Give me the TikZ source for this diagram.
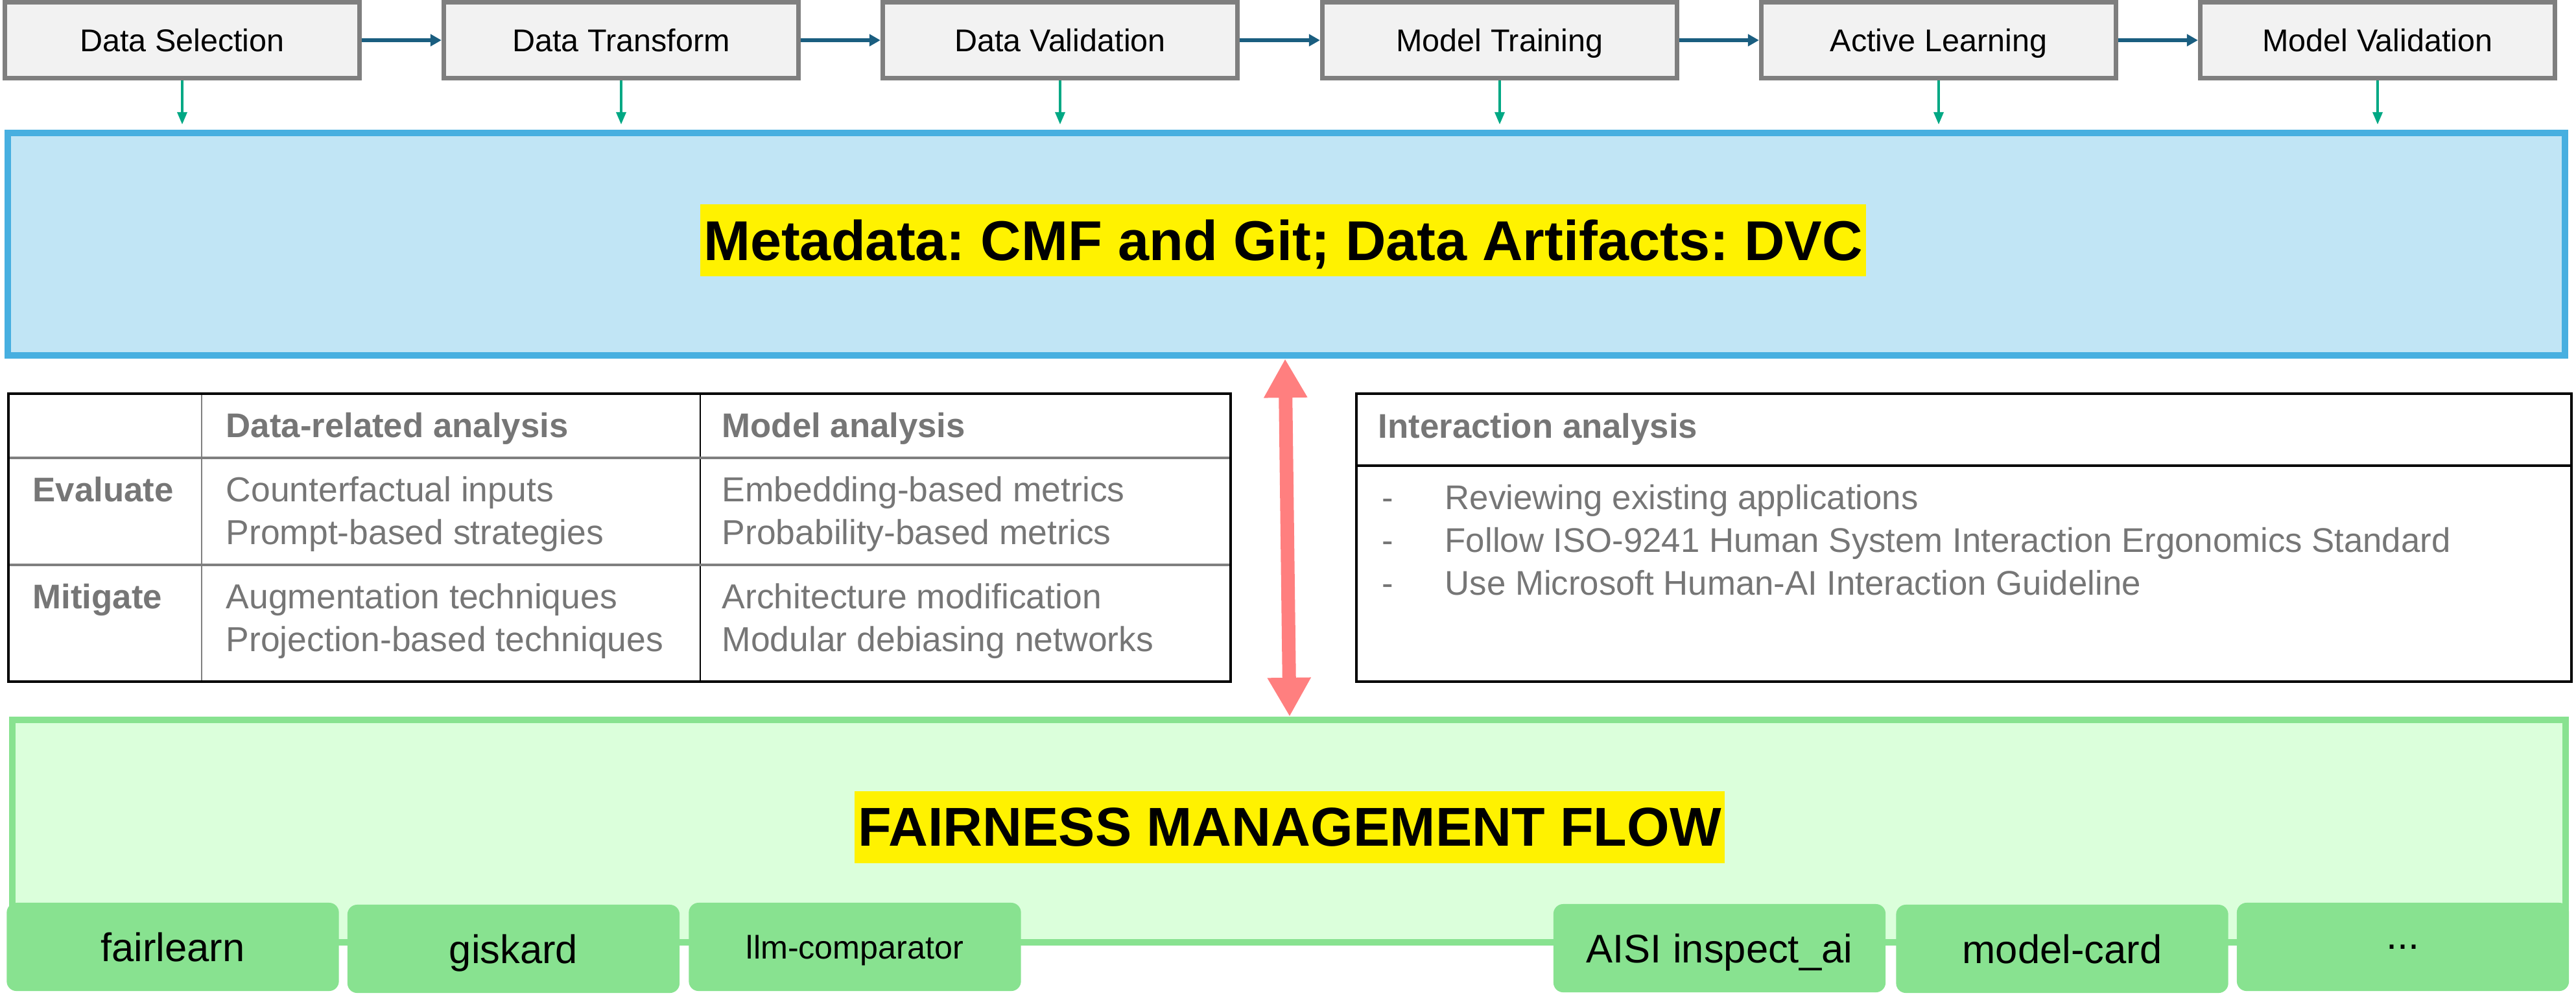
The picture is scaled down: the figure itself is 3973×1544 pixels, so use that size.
\documentclass[tikz,border=0pt]{standalone}
\usepackage{fontspec}
\setmainfont{Liberation Sans}
\usetikzlibrary{arrows.meta}
\usetikzlibrary{positioning}
\frenchspacing
\definecolor{stagefill}{HTML}{F2F2F2}
\definecolor{stageline}{HTML}{7F7F7F}
\definecolor{mflow}{HTML}{1A5E80}
\definecolor{mgreen}{HTML}{00A884}
\definecolor{metaline}{HTML}{47AFE0}
\definecolor{metafill}{HTML}{C1E5F5}
\definecolor{fairline}{HTML}{88E290}
\definecolor{fairfill}{HTML}{DBFFDB}
\definecolor{mpink}{HTML}{FF7F7F}
\definecolor{mgrey}{HTML}{767676}
\tikzset{stagebox/.style = {draw=stageline, fill=stagefill, line width=0.07cm,
                            minimum width=5.47cm, minimum height=1.17cm, text depth=0pt,
                            font=\fontsize{13.8}{16}\selectfont}}
\tikzset{flow/.style = {mflow, line width=0.065cm, -{Triangle[length=0.17cm, width=0.18cm]}}}
\tikzset{store/.style = {mgreen, line width=0.035cm, shorten >=0.08cm,
                         -{Triangle[length=0.19cm, width=0.15cm]}}}
\tikzset{bothway/.style = {mpink, line width=0.21cm,
                           {Triangle[length=0.6cm, width=0.63cm]}-{Triangle[length=0.6cm, width=0.63cm]}}}
\tikzset{metabox/.style = {draw=metaline, fill=metafill, line width=0.1cm,
                           minimum width=39.42cm, minimum height=3.43cm}}
\tikzset{fairbox/.style = {draw=fairline, fill=fairfill, line width=0.1cm,
                           minimum width=39.36cm, minimum height=3.43cm}}
\tikzset{hilite/.style = {fill=yellow, minimum height=1.11cm, inner xsep=0.05cm, text depth=0pt,
                          font=\fontsize{24}{28}\selectfont\bfseries}}
\tikzset{toolbox/.style = {fill=fairline, rounded corners=0.15cm, minimum width=5.12cm,
                           minimum height=1.36cm, text depth=0pt, font=\fontsize{17.5}{20}\selectfont}}
\tikzset{tcell/.style = {anchor=base west, inner sep=0, text=mgrey, font=\fontsize{15.2}{18}\selectfont}}
\tikzset{thead/.style = {tcell, font=\fontsize{15}{18}\selectfont\bfseries}}
\begin{document}
\begin{tikzpicture}[x=0.01cm, y=-0.01cm]
      \useasboundingbox (0,0) rectangle (3973,1544);

      \node [stagebox] (sel) at (281, 62) {Data Selection};
      \node [stagebox] (trans) at (958, 62) {Data Transform};
      \node [stagebox] (dval) at (1635, 62) {Data Validation};
      \node [stagebox] (train) at (2313, 62) {Model Training};
      \node [stagebox] (active) at (2990, 62) {Active Learning};
      \node [stagebox] (mval) at (3667, 62) {Model Validation};

      \draw [flow] (sel) -- (trans);
      \draw [flow] (trans) -- (dval);
      \draw [flow] (dval) -- (train);
      \draw [flow] (train) -- (active);
      \draw [flow] (active) -- (mval);

      \node [metabox] (meta) at (1984, 376.5) {};
      \node [hilite, font=\fontsize{24.6}{28}\selectfont\bfseries] (metatitle) at (1979, 370.5) {Metadata: CMF and Git; Data Artifacts: DVC};

      \draw [store] (sel.south) -- (sel.south |- meta.north);
      \draw [store] (trans.south) -- (trans.south |- meta.north);
      \draw [store] (dval.south) -- (dval.south |- meta.north);
      \draw [store] (train.south) -- (train.south |- meta.north);
      \draw [store] (active.south) -- (active.south |- meta.north);
      \draw [store] (mval.south) -- (mval.south |- meta.north);

      % analysis tables
      \fill [white] (13, 607) rectangle (1898, 1051);
      \draw [stageline, line width=0.02cm] (311, 607) -- (311, 1051);
      \draw [line width=0.02cm] (1080, 607) -- (1080, 1051);
      \draw [stageline, line width=0.035cm] (13, 706) -- (1898, 706);
      \draw [stageline, line width=0.035cm] (13, 871) -- (1898, 871);
      \draw [line width=0.04cm] (13, 607) rectangle (1898, 1051);

      \node [thead] (hdata) at (348, 674) {Data-related analysis};
      \node [thead] (hmodel) at (1113, 674) {Model analysis};
      \node [thead] (heval) at (50, 773) {Evaluate};
      \node [tcell] (cfact) at (348, 773) {Counterfactual inputs};
      \node [tcell] (prompt) at (348, 839) {Prompt-based strategies};
      \node [tcell] (embed) at (1113, 773) {Embedding-based metrics};
      \node [tcell] (prob) at (1113, 839) {Probability-based metrics};
      \node [thead] (hmit) at (50, 938) {Mitigate};
      \node [tcell] (augm) at (348, 938) {Augmentation techniques};
      \node [tcell] (proj) at (348, 1004) {Projection-based techniques};
      \node [tcell] (arch) at (1113, 938) {Architecture modification};
      \node [tcell] (modul) at (1113, 1004) {Modular debiasing networks};

      \fill [white] (2092, 607) rectangle (3966, 1051);
      \draw [line width=0.04cm] (2092, 718) -- (3966, 718);
      \draw [line width=0.04cm] (2092, 607) rectangle (3966, 1051);

      \node [thead] (hinter) at (2125, 675) {Interaction analysis};
      \node [tcell, font=\fontsize{15}{18}\selectfont] (review) at (2131, 785) {\makebox[0.97cm][l]{-}Reviewing existing applications};
      \node [tcell, font=\fontsize{15}{18}\selectfont] (iso) at (2131, 851) {\makebox[0.97cm][l]{-}Follow ISO-9241 Human System Interaction Ergonomics Standard};
      \node [tcell, font=\fontsize{15}{18}\selectfont] (msft) at (2131, 917) {\makebox[0.97cm][l]{-}Use Microsoft Human-AI Interaction Guideline};

      \node [fairbox] (fair) at (1988, 1281.5) {};
      \node [hilite, minimum width=13.12cm] (fairtitle) at (1989, 1275.5) {FAIRNESS MANAGEMENT FLOW};

      \node [toolbox] (flearn) at (266.5, 1460) {fairlearn};
      \node [toolbox] (gisk) at (792, 1463) {giskard};
      \node [toolbox, font=\fontsize{14.3}{17}\selectfont] (llmcomp) at (1318.5, 1460) {llm-comparator};
      \node [toolbox] (inspect) at (2652, 1462) {AISI inspect\_ai};
      \node [toolbox] (mcard) at (3180.5, 1463) {model-card};
      \node [toolbox] (more) at (3706, 1460) {...};

      \draw [bothway] (1982, 0 |- meta.south) -- (1989, 0 |- fair.north);
    \end{tikzpicture}
\end{document}
